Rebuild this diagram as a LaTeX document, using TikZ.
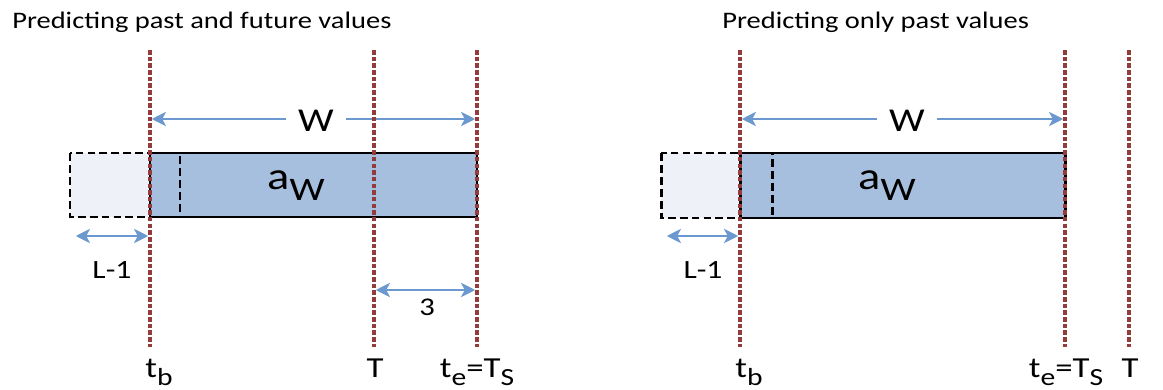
\documentclass[tikz,border=0pt]{standalone}
\usepackage{fontspec}
\setmainfont[FakeStretch=1.2,Numbers=Lining]{Carlito}
\usepackage{xcolor}
\usepackage{graphicx}
\usetikzlibrary{arrows.meta,positioning}
\tikzset{>=Stealth}

\definecolor{cutred}{HTML}{923C3C}
\definecolor{spanblue}{HTML}{6A98CF}
\definecolor{winblue}{HTML}{A7BFDE}
\definecolor{pastblue}{HTML}{EEF1F8}

\newcommand{\lowidx}[1]{\raisebox{-0.6ex}{\scalebox{0.85}{#1}}}

\begin{document}
\begin{tikzpicture}[
    x=0.02cm, y=-0.02cm,
    cutline/.style={draw=cutred, line width=1.9pt, dash pattern=on 2.6pt off 1.2pt},
    span/.style={{Stealth[length=8pt,width=8pt,inset=2pt]}-{Stealth[length=8pt,width=8pt,inset=2pt]},
        draw=spanblue, line width=1.7pt, shorten <=1pt, shorten >=1pt},
    winbox/.style={draw=black, line width=1.7pt, fill=winblue},
    pastbox/.style={draw=black, line width=1.7pt, dash pattern=on 4.5pt off 2.3pt},
    heading/.style={font=\fontsize{13.5}{16}\selectfont, anchor=base west, inner sep=0pt},
    tick/.style={font=\fontsize{16.5}{18}\selectfont, anchor=base, inner sep=0pt},
    gap/.style={font=\fontsize{19}{21}\selectfont, fill=white, inner xsep=7pt, inner ysep=1pt},
    lag/.style={font=\fontsize{15}{17}\selectfont, anchor=base, inner sep=0pt},
    small/.style={font=\fontsize{14.5}{16}\selectfont, anchor=base, inner sep=0pt}
]
    \useasboundingbox (0,0) rectangle (1163,389);

    % left panel: past and future
    \node[heading] (headL) at (12,28) {Predicting past and future values};

    \coordinate (tbLtop) at (150,50);  \coordinate (tbLbot) at (150,347);
    \coordinate (TLtop) at (374,50);   \coordinate (TLbot) at (374,347);
    \coordinate (teLtop) at (477,50);  \coordinate (teLbot) at (477,347);

    \fill[pastblue] (70,153) rectangle (180,217);
    \draw[winbox] (150,153) rectangle (477,217);
    \draw[pastbox] (70,153) rectangle (180,217);
    \node[font=\fontsize{22}{24}\selectfont, inner sep=0pt] (awL) at (296,186) {a\lowidx{W}};

    \coordinate (wLa) at (150,119);   \coordinate (wLb) at (477,119);
    \draw[span] (wLa) -- (wLb);
    \node[gap] (wL) at (316,121) {W};

    \coordinate (lLa) at (74,236);    \coordinate (lLb) at (150,236);
    \draw[span] (lLa) -- (lLb);
    \node[lag] (lmL) at (112,278) {L-1};

    \coordinate (fLa) at (374,290);   \coordinate (fLb) at (477,290);
    \draw[span] (fLa) -- (fLb);
    \node[small] (hL) at (427,315) {3};

    \draw[cutline] (tbLtop) -- (tbLbot);
    \draw[cutline] (TLtop) -- (TLbot);
    \draw[cutline] (teLtop) -- (teLbot);

    \node[tick] (tbL) at (159,377) {t\lowidx{b}};
    \node[tick] (TL) at (375,377) {T};
    \node[tick] (teL) at (477,377) {t\lowidx{e}=T\lowidx{S}};

    % right panel: only past
    \node[heading] (headR) at (722,28) {Predicting only past values};

    \coordinate (tbRtop) at (740,50);  \coordinate (tbRbot) at (740,347);
    \coordinate (teRtop) at (1065,50); \coordinate (teRbot) at (1065,347);
    \coordinate (TRtop) at (1129,50);  \coordinate (TRbot) at (1129,347);

    \fill[pastblue] (661,153) rectangle (772,218);
    \draw[winbox] (740,153) rectangle (1065,218);
    \draw[pastbox] (661,153) rectangle (772,218);
    \node[font=\fontsize{22}{24}\selectfont, inner sep=0pt] (awR) at (887,186) {a\lowidx{W}};

    \coordinate (wRa) at (740,119);   \coordinate (wRb) at (1065,119);
    \draw[span] (wRa) -- (wRb);
    \node[gap] (wR) at (907,121) {W};

    \coordinate (lRa) at (665,236);   \coordinate (lRb) at (740,236);
    \draw[span] (lRa) -- (lRb);
    \node[lag] (lmR) at (703,278) {L-1};

    \draw[cutline] (tbRtop) -- (tbRbot);
    \draw[cutline] (teRtop) -- (teRbot);
    \draw[cutline] (TRtop) -- (TRbot);

    \node[tick] (tbR) at (749,377) {t\lowidx{b}};
    \node[tick] (teR) at (1066,377) {t\lowidx{e}=T\lowidx{S}};
    \node[tick] (TR) at (1130,377) {T};
\end{tikzpicture}
\end{document}
